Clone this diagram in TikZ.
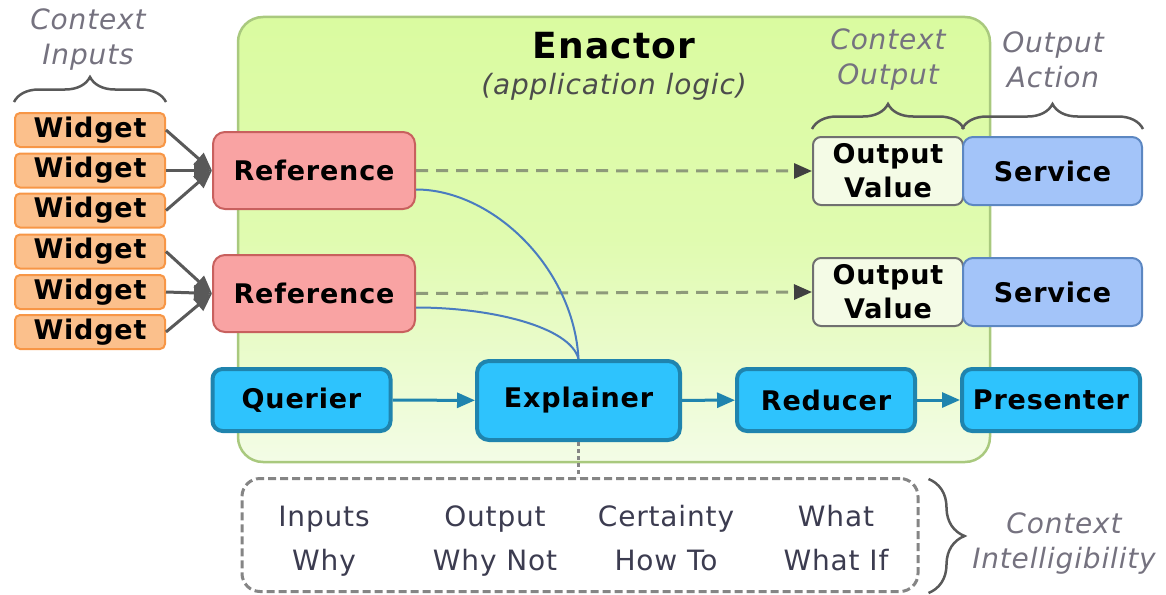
\documentclass[tikz,border=0pt]{standalone}
\usepackage{fontspec}
\setmainfont{DejaVu Sans}[LetterSpace=3]
\usetikzlibrary{arrows.meta,calc,decorations.pathreplacing}

\definecolor{enactortop}{HTML}{DAFBA0}
\definecolor{enactormid}{HTML}{E0FBB0}
\definecolor{enactorbot}{HTML}{F3FCE6}
\definecolor{enactordraw}{HTML}{A9C97E}
\definecolor{widgetfill}{HTML}{FBC08C}
\definecolor{widgetdraw}{HTML}{F79646}
\definecolor{reffill}{HTML}{F9A3A3}
\definecolor{refdraw}{HTML}{C8605E}
\definecolor{ovfill}{HTML}{F4FBE6}
\definecolor{ovdraw}{HTML}{707070}
\definecolor{svfill}{HTML}{A3C4F9}
\definecolor{svdraw}{HTML}{5C87C2}
\definecolor{stagefill}{HTML}{2EC3FD}
\definecolor{stagedraw}{HTML}{1F84AE}
\definecolor{linkblue}{HTML}{4A7CC0}
\definecolor{arrowgray}{HTML}{595959}
\definecolor{dashgray}{HTML}{8E9A7A}
\definecolor{headgray}{HTML}{404040}
\definecolor{boxgray}{HTML}{858585}
\definecolor{notegray}{HTML}{75727F}
\definecolor{asktext}{HTML}{3C3C50}

\begin{document}
\begin{tikzpicture}[x=1pt,y=-1pt,
  box/.style={inner sep=0pt, line width=2pt, font=\fontsize{27}{30}\selectfont\bfseries},
  widget/.style={box, fill=widgetfill, draw=widgetdraw, minimum width=150pt, minimum height=34pt, rounded corners=5pt},
  refbox/.style={box, fill=reffill, draw=refdraw, minimum width=202pt, minimum height=77pt, rounded corners=12pt},
  outval/.style={box, fill=ovfill, draw=ovdraw, minimum width=150pt, minimum height=68pt, rounded corners=8pt, align=center, font=\fontsize{27}{34}\selectfont\bfseries},
  service/.style={box, fill=svfill, draw=svdraw, minimum width=179pt, minimum height=68pt, rounded corners=10pt},
  stage/.style={box, fill=stagefill, draw=stagedraw, line width=4pt, minimum width=178pt, minimum height=62pt, rounded corners=10pt},
  note/.style={font=\fontsize{28}{35}\selectfont\itshape, text=notegray, align=center},
  ask/.style={font=\fontsize{28}{30}\selectfont, text=asktext, anchor=base},
  tip/.style={-{Triangle[length=18pt,width=15pt]}},
  feed/.style={draw=arrowgray, line width=3pt, tip},
  pass/.style={draw=dashgray, line width=3pt, dash pattern=on 12pt off 8pt, -{Triangle[length=18pt,width=15pt,color=headgray]}},
  flow/.style={draw=stagedraw, line width=3pt, tip},
  link/.style={draw=linkblue, line width=2pt},
  bracket/.style={draw=arrowgray, line width=2.5pt, decorate},
]
\useasboundingbox (0,0) rectangle (1166,594);

% application logic region
\node[draw=enactordraw, line width=2.5pt, rounded corners=25pt,
      top color=enactortop, bottom color=enactorbot, middle color=enactormid,
      minimum width=752pt, minimum height=445pt, inner sep=0pt] (enactor) at (614,239.5) {};
\node[font=\fontsize{36}{38}\selectfont\bfseries] (title) at (614,46) {Enactor};
\node[font=\fontsize{28}{30}\selectfont\itshape, text=black!70] (subtitle) at (614,87) {(application logic)};

% inputs
\node[widget] (w1) at (90,130) {Widget};
\node[widget] (w2) at (90,170.5) {Widget};
\node[widget] (w3) at (90,210.5) {Widget};
\node[widget] (w4) at (90,251.5) {Widget};
\node[widget] (w5) at (90,292) {Widget};
\node[widget] (w6) at (90,332) {Widget};

\node[refbox] (ref1) at (314,170.5) {Reference};
\node[refbox] (ref2) at (314,293.5) {Reference};

% outputs
\node[outval] (ov1) at (888,171) {Output\\Value};
\node[outval] (ov2) at (888,292) {Output\\Value};
\node[service] (sv1) at (1052.5,171) {Service};
\node[service] (sv2) at (1052.5,292) {Service};

% explanation pipeline
\node[stage] (querier) at (301.5,400) {Querier};
\node[stage, minimum width=203pt, minimum height=79pt, rounded corners=12pt] (explainer) at (578.5,400.5) {Explainer};
\node[stage] (reducer) at (826,400) {Reducer};
\node[stage] (presenter) at (1051,400) {Presenter};

% intelligibility types
\node[draw=boxgray, line width=3pt, dash pattern=on 8pt off 4pt, rounded corners=18pt, fill=white,
      minimum width=676pt, minimum height=113pt, inner sep=0pt] (intel) at (580,535) {};
\node[ask] (q1) at (324,526) {Inputs};
\node[ask] (q2) at (324,570) {Why};
\node[ask] (q3) at (495,526) {Output};
\node[ask] (q4) at (495,570) {Why Not};
\node[ask] (q5) at (666,526) {Certainty};
\node[ask] (q6) at (666,570) {How To};
\node[ask] (q7) at (836,526) {What};
\node[ask] (q8) at (836,570) {What If};

% labels
\node[note] (lblin) at (88,40) {Context\\Inputs};
\node[note] (lblout) at (888,60) {Context\\Output};
\node[note] (lblact) at (1053,60) {Output\\Action};
\node[note] (lblint) at (1064,544) {Context\\Intelligibility};

% braces
\draw[bracket, decoration={brace, amplitude=25pt}]
  ([yshift=10pt]w1.north west) -- ([yshift=10pt]w1.north east);
\draw[bracket, decoration={brace, amplitude=25pt}]
  ([yshift=7pt]ov1.north west) -- ([yshift=7pt]ov1.north east);
\draw[bracket, decoration={brace, amplitude=25pt}]
  ([yshift=7pt]sv1.north west) -- ([yshift=7pt]sv1.north east);
\draw[bracket, decoration={brace, amplitude=36pt}]
  ([xshift=9pt,yshift=-2pt]intel.north east) -- ([xshift=9pt]intel.south east);

% widgets feed references
\foreach \w in {w1,w2,w3} \draw[feed] (\w.east) -- (ref1.west);
\foreach \w in {w4,w5,w6} \draw[feed] (\w.east) -- (ref2.west);

% references to outputs
\draw[pass] (ref1.east) -- (ov1.west);
\draw[pass] (ref2.east) -- (ov2.west);

% references to explainer
\draw[link] ($(ref1.east)+(0,19)$) .. controls +(76,0) and +(-5,-92) .. (explainer.north);
\draw[link] ($(ref2.east)+(0,14)$) .. controls +(76,0) and +(-8,-32) .. (explainer.north);

% pipeline
\draw[flow] (querier) -- (explainer);
\draw[flow] (explainer) -- (reducer);
\draw[flow] (reducer) -- (presenter);

% explainer to intelligibility types
\draw[draw=boxgray, line width=3pt, dash pattern=on 4pt off 3pt] (explainer.south) -- (explainer.south |- intel.north);
\end{tikzpicture}
\end{document}
